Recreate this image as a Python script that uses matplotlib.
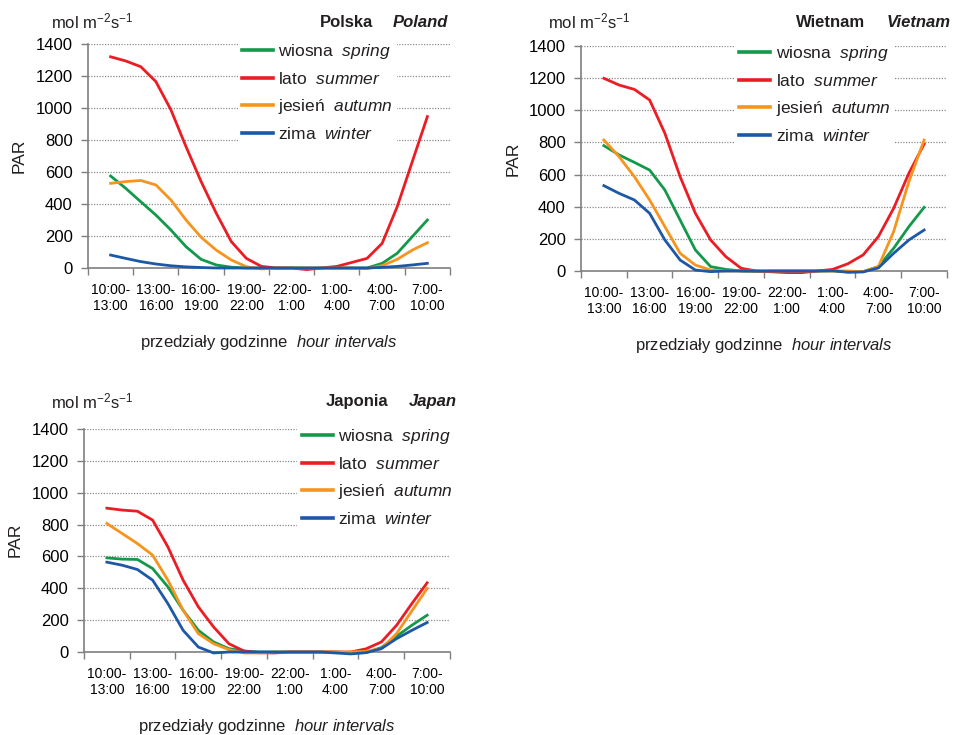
import numpy as np
import matplotlib
matplotlib.use("Agg")
import matplotlib.pyplot as plt

plt.rcParams["font.family"] = ["Liberation Sans", "DejaVu Sans"]
plt.rcParams["mathtext.fontset"] = "custom"
plt.rcParams["mathtext.rm"] = "Liberation Sans"
plt.rcParams["mathtext.it"] = "Liberation Sans:italic"
plt.rcParams["mathtext.bf"] = "Liberation Sans:bold"
plt.rcParams["text.color"] = "#231f20"

# ---- data -------------------------------------------------------------
interval_labels = ["10:00-\n13:00", "13:00-\n16:00", "16:00-\n19:00", "19:00-\n22:00",
                   "22:00-\n1:00", "1:00-\n4:00", "4:00-\n7:00", "7:00-\n10:00"]
# hours elapsed since 10:00 (hourly readings, from 11:30 to 8:30)
hours = np.arange(1.5, 23.0, 1.0)

season_labels = [r"wiosna  $\mathit{spring}$", r"lato  $\mathit{summer}$",
                 r"jesień  $\mathit{autumn}$", r"zima  $\mathit{winter}$"]
season_colors = ["#12994a", "#ec1c24", "#f7941d", "#1d58a7"]

poland_spring = [575, 498, 414, 331, 237, 133, 54, 19, 5, 0, 0, 0, 0, 0, 0, 0, 0, 0, 29, 92, 196, 300]
poland_summer = [1320, 1294, 1258, 1165, 988, 758, 540, 343, 165, 60, 10, 0, 0, -10, 0, 10, 35, 60, 154, 383, 665, 946]
poland_autumn = [529, 540, 547, 519, 425, 300, 192, 112, 50, 8, -6, 0, 0, 0, 0, 0, 0, -4, 15, 54, 112, 158]
poland_winter = [81, 60, 40, 25, 14, 7, 3, 0, 0, 0, 0, 0, 0, 0, 0, 0, 0, 0, 4, 10, 19, 29]

vietnam_spring = [780, 722, 676, 628, 504, 317, 131, 27, 10, 0, -3, 0, 0, 0, 0, 0, -5, -4, 27, 141, 276, 396]
vietnam_summer = [1199, 1157, 1130, 1064, 857, 587, 359, 193, 89, 17, 0, -5, -10, -10, 0, 10, 45, 100, 214, 390, 608, 790]
vietnam_autumn = [815, 711, 587, 442, 276, 110, 37, 6, 0, 0, 0, 0, 0, 0, 0, 0, 0, -4, 27, 245, 556, 815]
vietnam_winter = [531, 483, 442, 359, 193, 68, 6, -4, 0, 0, 0, 0, 0, 0, 0, 2, -8, -6, 19, 110, 193, 255]

japan_spring = [591, 583, 581, 524, 409, 262, 136, 63, 21, 6, 0, 0, 0, 0, 0, 0, -6, -4, 28, 99, 168, 231]
japan_summer = [903, 891, 884, 828, 660, 451, 283, 157, 52, 6, -5, -6, 0, 0, 0, 0, 0, 20, 63, 168, 304, 434]
japan_autumn = [807, 744, 681, 608, 451, 262, 115, 52, 15, -6, -6, 0, 0, 0, 0, 0, 0, 4, 21, 116, 258, 399]
japan_winter = [564, 545, 518, 451, 304, 136, 31, -6, 0, 0, 0, 0, 0, 0, 0, -6, -12, -4, 21, 84, 136, 185]

y_ticks = [0, 200, 400, 600, 800, 1000, 1200, 1400]

W, H = 954, 735
fig = plt.figure(figsize=(W / 100, H / 100), dpi=100)


def px_rect(left, top, right, bottom):
    return [left / W, (H - bottom) / H, (right - left) / W, (bottom - top) / H]


def panel(rect, series, name_pl, name_en, pl_right, en_right, title_base,
          unit_x, unit_base, par_xy, legend_anchor):
    left, top, right, bottom = rect
    ax = fig.add_axes(px_rect(left, top, right, bottom))
    for vals, lab, col in zip(series, season_labels, season_colors):
        ax.plot(hours, vals, color=col, lw=2.0, label=lab, clip_on=False,
                solid_joinstyle="round", zorder=3)
    ax.set_xlim(0, 24)
    ax.set_ylim(0, 1400)
    ax.set_yticks(y_ticks)
    ax.set_xticks(np.arange(0, 25, 3))
    ax.set_xticklabels([])
    ax.set_xticks(np.arange(1.5, 24, 3), minor=True)
    ax.set_xticklabels(interval_labels, minor=True, fontsize=10, linespacing=1.15)
    ax.tick_params(axis="x", which="major", direction="out", length=5,
                   color="#7f7f7f", width=1)
    ax.tick_params(axis="x", which="minor", length=0, pad=11)
    ax.tick_params(axis="y", direction="out", length=5, color="#7f7f7f",
                   width=1, labelsize=12, pad=6)
    for s in ("top", "right"):
        ax.spines[s].set_visible(False)
    for s in ("left", "bottom"):
        ax.spines[s].set_color("#7f7f7f")
        ax.spines[s].set_linewidth(1.2)
    for yv in y_ticks[1:]:
        ax.axhline(yv, color="#8a8a8a", lw=0.9, ls=(0, (1, 1.2)), zorder=1)

    leg = ax.legend(loc="upper left", bbox_to_anchor=legend_anchor,
                    fontsize=12.5, frameon=True, framealpha=1, facecolor="white",
                    edgecolor="none", handlelength=1.8, handletextpad=0.3,
                    labelspacing=0.58, borderpad=0.25, borderaxespad=0)
    for h in leg.legend_handles:
        h.set_linewidth(2.6)
    leg.set_zorder(2)

    fig.text(pl_right / W, (H - title_base) / H, name_pl, ha="right",
             va="baseline", fontsize=12, fontweight="bold")
    fig.text(en_right / W, (H - title_base) / H, name_en, ha="right",
             va="baseline", fontsize=12, fontweight="bold", fontstyle="italic")
    fig.text(unit_x / W, (H - unit_base) / H, r"mol m$^{-2}$s$^{-1}$",
             ha="left", va="baseline", fontsize=12)
    fig.text(par_xy[0] / W, (H - par_xy[1]) / H, "PAR", rotation=90,
             ha="center", va="center", fontsize=12.5)
    fig.text((left + right) / 2 / W, (H - bottom - 79) / H,
             r"przedziały godzinne  $\mathit{hour\ intervals}$",
             ha="center", va="baseline", fontsize=12)
    return ax


panel((88, 44, 450, 268),
      [poland_spring, poland_summer, poland_autumn, poland_winter],
      "Polska", "Poland", 373, 448, 27, 51, 28, (19, 156), (0.413, 1.03))
panel((581, 46, 947, 271),
      [vietnam_spring, vietnam_summer, vietnam_autumn, vietnam_winter],
      "Wietnam", "Vietnam", 865, 951, 27, 548, 28, (513, 159), (0.42, 1.03))
panel((84, 429, 450, 652),
      [japan_spring, japan_summer, japan_autumn, japan_winter],
      "Japonia", "Japan", 388, 457, 406, 51, 408, (15, 540), (0.583, 1.03))

fig.savefig("out.png", dpi=100)
